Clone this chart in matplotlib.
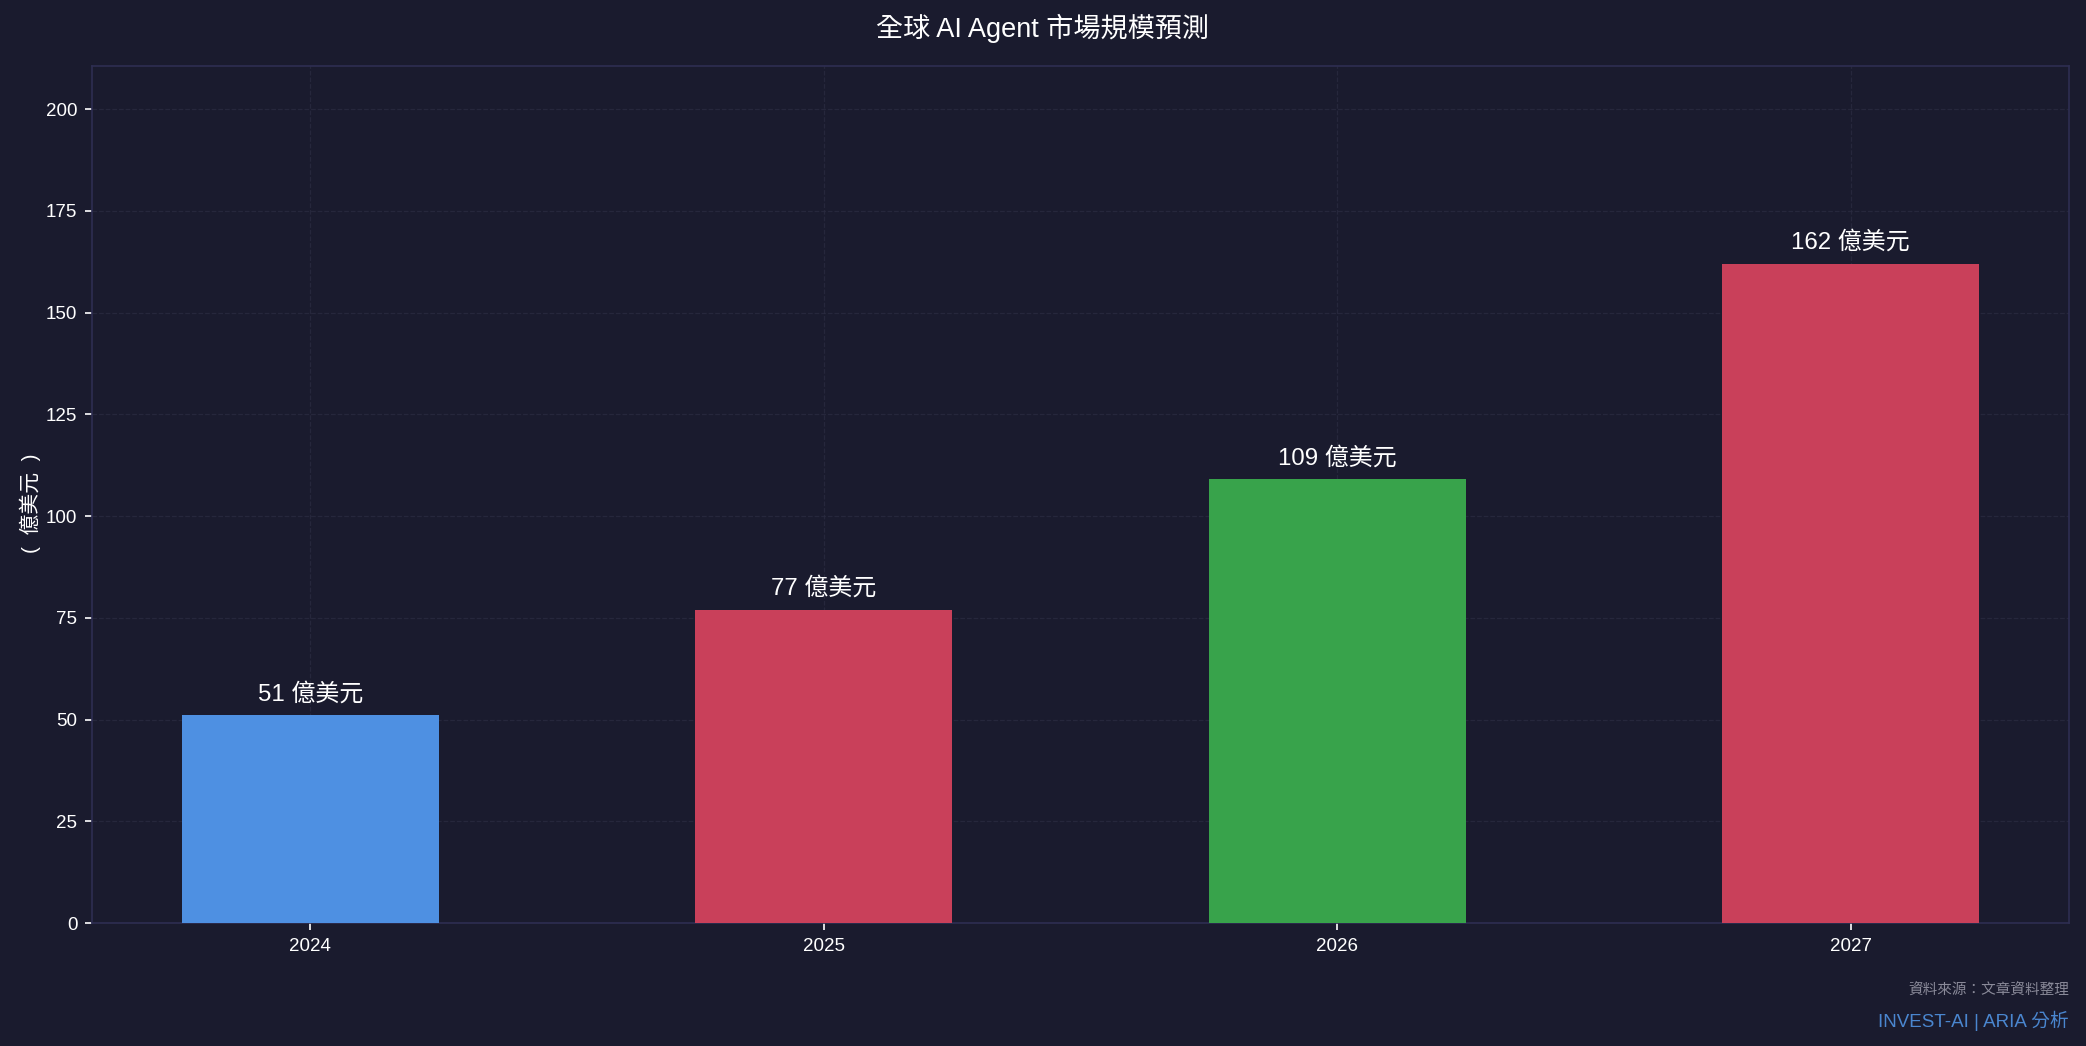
import matplotlib
matplotlib.use("Agg")
import matplotlib.pyplot as plt

plt.rcParams['font.family'] = ['Liberation Sans', 'Noto Sans CJK TC', 'DejaVu Sans']

# data
years = ['2024', '2025', '2026', '2027']
market_size = [51, 77, 109, 162]
bar_colors = ['#4E90E2', '#C9405A', '#38A34B', '#C9405A']

BG = '#1A1B2E'

fig = plt.figure(figsize=(2086 / 150, 1046 / 150), dpi=150, facecolor=BG)
ax = fig.add_axes([92 / 2086, 1 - 923 / 1046, (2069 - 92) / 2086, (923 - 66) / 1046])
ax.set_facecolor(BG)

x = range(len(years))
bars = ax.bar(x, market_size, width=0.5, color=bar_colors, zorder=3)
for b, v in zip(bars, market_size):
    ax.text(b.get_x() + b.get_width() / 2, v + 2.5, f"{v} 億美元",
            ha='center', va='bottom', color='white', fontsize=11.5)

ax.set_xticks(list(x))
ax.set_xticklabels(years)
ax.set_ylim(0, max(market_size) * 1.3)
ax.set_yticks(range(0, 201, 25))
ax.tick_params(colors='white', labelsize=9)
ax.grid(True, color='#2A2B40', linestyle='--', linewidth=0.6, alpha=0.8, zorder=0)
for s in ax.spines.values():
    s.set_color('#2E2E52')
ax.set_ylabel('(  億美元  )', color='white', fontsize=10)
ax.yaxis.set_label_coords(-0.026, 0.49)

fig.text(0.5, 1 - 28 / 1046, '全球 AI Agent 市場規模預測', ha='center', va='center',
         color='white', fontsize=13)
fig.text(2069 / 2086, 1 - 991 / 1046, '資料來源：文章資料整理', ha='right', va='center',
         color='#8A8A99', fontsize=7, family=['Noto Sans CJK TC'])
fig.text(2069 / 2086, 1 - 1021 / 1046, 'INVEST-AI | ARIA 分析', ha='right', va='center',
         color='#4A86CF', fontsize=9)

fig.savefig('out.png', dpi=150, facecolor=BG)
